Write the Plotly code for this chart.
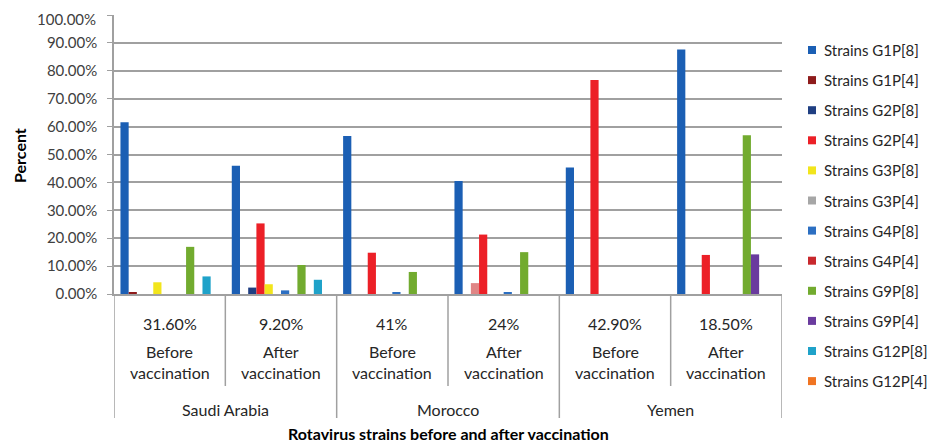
import plotly.graph_objects as go

# ---- data ----
countries = ["Saudi Arabia", "Morocco", "Yemen"]
periods = ["Before vaccination", "After vaccination"] * 3
coverage = ["31.60%", "9.20%", "41%", "24%", "42.90%", "18.50%"]
categories = ["SA-B", "SA-A", "MO-B", "MO-A", "YE-B", "YE-A"]

strains = ["Strains G1P[8]", "Strains G1P[4]", "Strains G2P[8]", "Strains G2P[4]",
           "Strains G3P[8]", "Strains G3P[4]", "Strains G4P[8]", "Strains G4P[4]",
           "Strains G9P[8]", "Strains G9P[4]", "Strains G12P[8]", "Strains G12P[4]"]

g1p8 = [61.6, 46.0, 56.6, 40.5, 45.3, 87.6]
g1p4 = [0.7, 0, 0, 0, 0, 0]
g2p8 = [0, 2.3, 0, 3.9, 0, 0]
g2p4 = [0, 25.3, 14.8, 21.3, 76.7, 14.0]
g3p8 = [4.2, 3.5, 0, 0, 0, 0]
g3p4 = [0, 0, 0, 0, 0, 0]
g4p8 = [0, 1.3, 0.4, 0.6, 0, 0]
g4p4 = [0, 0, 0, 0, 0, 0]
g9p8 = [16.9, 10.4, 7.9, 15.0, 0, 56.9]
g9p4 = [0, 0, 0, 0, 0, 14.2]
g12p8 = [6.3, 5.1, 0, 0, 0, 0]
g12p4 = [0, 0, 0, 0, 0, 0]

series = [g1p8, g1p4, g2p8, g2p4, g3p8, g3p4, g4p8, g4p4, g9p8, g9p4, g12p8, g12p4]

y_ticks = list(range(0, 101, 10))

colors = ["#1b5fb4", "#8e1b1b", "#1f3f82", "#ec2027", "#f2e51c", "#a6a6a6",
          "#2c6fc2", "#c8282d", "#72ab2f", "#6a3b9e", "#1fa2c9", "#f07422"]
# the G2P[8] bar in Morocco "after" is drawn pinkish in the original
point_colors = {2: [colors[2], colors[2], colors[2], "#e08585", colors[2], colors[2]]}

FONT = "Lato"

fig = go.Figure()
for i, (name, vals) in enumerate(zip(strains, series)):
    fig.add_trace(go.Bar(
        x=categories, y=vals, name=name,
        marker=dict(color=point_colors.get(i, colors[i]), line=dict(width=0)),
        showlegend=False,
    ))

W, H = 938, 444
OFF = 8  # page body margin of the browser
# plot area in screen pixels: x 114..782, y 15..294
L = 114 - OFF
T = 15 - OFF
R = W - (782 - OFF)
B = H - (294 - OFF)
plot_h = H - T - B
plot_w = W - L - R


def py(px):
    """screen pixel row -> paper y"""
    return (H - B - (px - OFF)) / plot_h


def pxx(px):
    """screen pixel column -> paper x"""
    return ((px - OFF) - L) / plot_w


shapes = []
# vertical separators of the category table
for k in range(7):
    xpos = k - 0.5
    long_line = (k % 2 == 0)
    shapes.append(dict(type="line", xref="x", yref="paper",
                       x0=xpos, x1=xpos, y0=0, y1=py(418 if long_line else 386),
                       line=dict(color="#a0a0a0", width=1.5)))

TXT = "#262626"
annotations = []


def ann(**kw):
    kw.setdefault("showarrow", False)
    kw.setdefault("xanchor", "center")
    kw.setdefault("yanchor", "middle")
    annotations.append(kw)


for i, cat in enumerate(categories):
    first, second = periods[i].split(" ")
    ann(x=cat, y=py(323), xref="x", yref="paper", text=coverage[i],
        font=dict(size=16, color=TXT))
    ann(x=cat, y=py(351), xref="x", yref="paper", text=first,
        font=dict(size=16, color=TXT))
    ann(x=cat, y=py(373), xref="x", yref="paper", text=second,
        font=dict(size=16, color=TXT))
for j, c in enumerate(countries):
    ann(x=2 * j + 0.5, y=py(409), xref="x", yref="paper", text=c,
        font=dict(size=16, color=TXT))
ann(x=pxx(448), y=py(434), xref="paper", yref="paper",
    text="<b>Rotavirus strains before and after vaccination</b>",
    font=dict(size=16, color="#000"))
ann(x=pxx(19), y=py(155), xref="paper", yref="paper",
    text="<b>Percent</b>", textangle=-90, font=dict(size=16, color="#000"))

# top tick label (would overflow the figure edge as an axis label)
ann(x=pxx(98), y=py(OFF), xref="paper", yref="paper", xanchor="right", yanchor="top",
    text=f"{y_ticks[-1]:.2f}%", font=dict(size=15, color="#404040"))

# legend drawn as swatches + labels (right of plot)
for i, name in enumerate(strains):
    yc = 50 + 30.1 * i
    shapes.append(dict(type="rect", xref="paper", yref="paper",
                       x0=pxx(808), x1=pxx(816), y0=py(yc + 4), y1=py(yc - 4),
                       fillcolor=colors[i], line=dict(width=0)))
    ann(x=pxx(822), y=py(yc), xref="paper", yref="paper", xanchor="left",
        text=name, font=dict(size=15, color=TXT))

fig.update_layout(
    width=W, height=H,
    margin=dict(l=L, r=R, t=T, b=B, pad=0, autoexpand=False),
    paper_bgcolor="white", plot_bgcolor="white",
    font=dict(family=FONT, size=15, color=TXT),
    barmode="group", bargap=0.116, bargroupgap=0,
    showlegend=False,
    shapes=shapes, annotations=annotations,
)
fig.update_xaxes(type="category", showticklabels=False, ticks="",
                 showline=True, linecolor="#a0a0a0", linewidth=1.5,
                 showgrid=False, range=[-0.5, 5.5])
fig.update_yaxes(range=[0, 100], tickmode="array", tickvals=y_ticks,
                 ticktext=[f"{v:.2f}%" for v in y_ticks[:-1]] + [""],
                 showgrid=True, gridcolor="#a0a0a0", gridwidth=2,
                 showline=True, linecolor="#a0a0a0", linewidth=1.5,
                 ticks="outside", ticklen=5, tickcolor="#a0a0a0",
                 ticklabelstandoff=7,
                 tickfont=dict(size=15, color="#404040"), zeroline=False)

fig.write_html("out.html")
